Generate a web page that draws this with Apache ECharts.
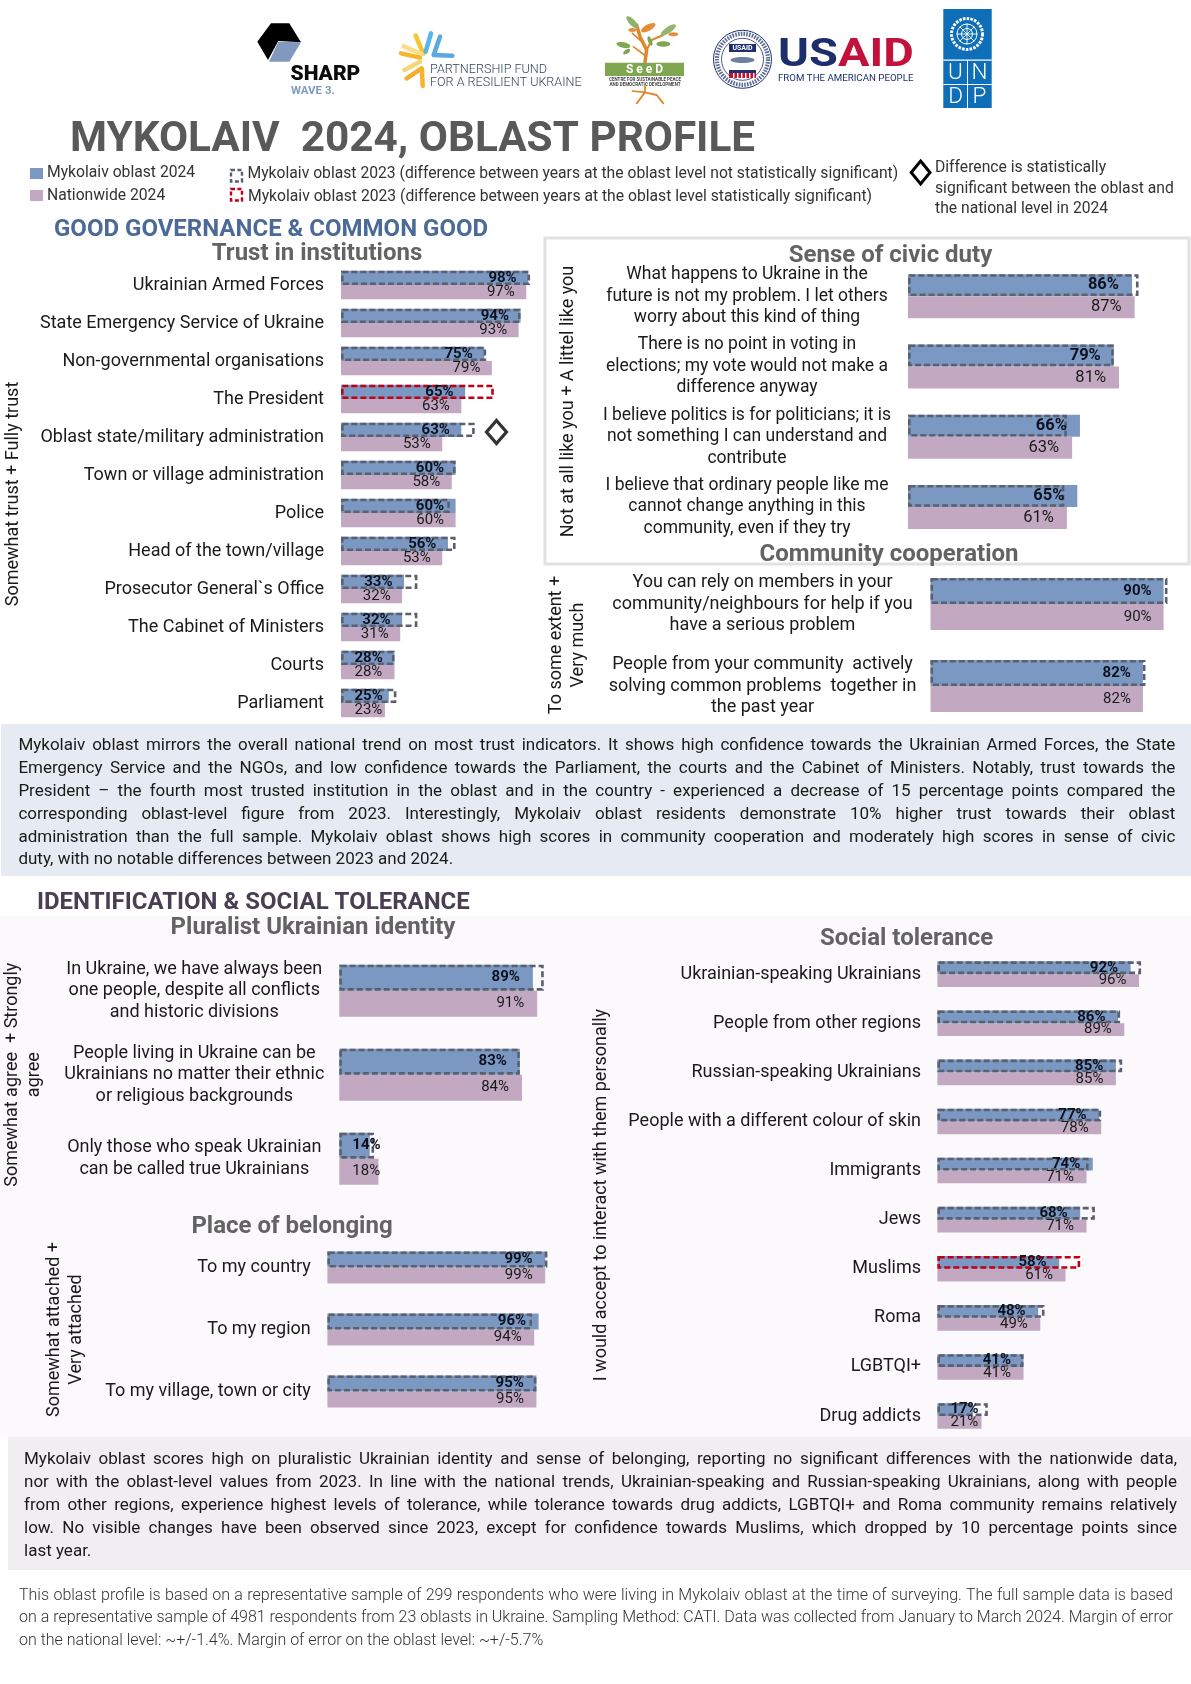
<!DOCTYPE html>
<html><head><meta charset="utf-8">
<script src="https://cdn.jsdelivr.net/npm/echarts@6/dist/echarts.min.js"></script>
<style>
html,body{margin:0;padding:0;background:#fff;}
#wrap{position:relative;width:1191px;height:1684px;overflow:hidden;font-family:Roboto,sans-serif;}
#chart{position:absolute;left:0;top:0;width:1191px;height:1684px;}
.ln{position:absolute;white-space:nowrap;text-align:justify;text-align-last:justify;}
.ln.last{text-align-last:left;}
</style></head><body><div id="wrap"><div id="chart"></div></div>
<script>
// ---------- DATA ----------
const trustCats = ['Ukrainian Armed Forces','State Emergency Service of Ukraine','Non-governmental organisations','The President','Oblast state/military administration','Town or village administration','Police','Head of the town/village','Prosecutor General`s Office','The Cabinet of Ministers','Courts','Parliament'];
const trustOblast = [98,94,75,65,63,60,60,56,33,32,28,25];
const trustNation = [97,93,79,63,53,58,60,53,32,31,28,23];
const trust2023 = [99,94,76,80,70,60,57,60,40,40,28,29];
const trustSig = [3];
const trustDiamondAt = [null,null,null,null,81.4,null,null,null,null,null,null,null];

const civicCats = ['What happens to Ukraine in the\nfuture is not my problem. I let others\nworry about this kind of thing','There is no point in voting in\nelections; my vote would not make a\ndifference anyway','I believe politics is for politicians; it is\nnot something I can understand and\ncontribute','I believe that ordinary people like me\ncannot change anything in this\ncommunity, even if they try'];
const civicOblast = [86,79,66,65];
const civicNation = [87,81,63,61];
const civic2023 = [88.5,79,61,60];

const commCats = ['You can rely on members in your\ncommunity/neighbours for help if you\nhave a serious problem','People from your community  actively\nsolving common problems  together in\nthe past year'];
const commOblast = [90,82];
const commNation = [90,82];
const comm2023 = [91.5,83];

const plurCats = ['In Ukraine, we have always been\none people, despite all conflicts\nand historic divisions','People living in Ukraine can be\nUkrainians no matter their ethnic\nor religious backgrounds','Only those who speak Ukrainian\ncan be called true Ukrainians'];
const plurOblast = [89,83,14];
const plurNation = [91,84,18];
const plur2023 = [94,83,16];

const placeCats = ['To my country','To my region','To my village, town or city'];
const placeOblast = [99,96,95];
const placeNation = [99,94,95];
const place2023 = [100,93,95];

const tolCats = ['Ukrainian-speaking Ukrainians','People from other regions','Russian-speaking Ukrainians','People with a different colour of skin','Immigrants','Jews','Muslims','Roma','LGBTQI+','Drug addicts'];
const tolOblast = [92,86,85,77,74,68,58,48,41,17];
const tolNation = [96,89,85,78,71,71,61,49,41,21];
const tol2023 = [97,87,88,78,72,75,68,51,41,24];
const tolSig = [6];

const para1 = ['Mykolaiv oblast mirrors the overall national trend on most trust indicators. It shows high confidence towards the Ukrainian Armed Forces, the State','Emergency Service and the NGOs, and low confidence towards the Parliament, the courts and the Cabinet of Ministers. Notably, trust towards the','President – the fourth most trusted institution in the oblast and in the country - experienced a decrease of 15 percentage points compared the','corresponding oblast-level figure from 2023. Interestingly, Mykolaiv oblast residents demonstrate 10% higher trust towards their oblast','administration than the full sample. Mykolaiv oblast shows high scores in community cooperation and moderately high scores in sense of civic','duty, with no notable differences between 2023 and 2024.'];
const para2 = ['Mykolaiv oblast scores high on pluralistic Ukrainian identity and sense of belonging, reporting no significant differences with the nationwide data,','nor with the oblast-level values from 2023. In line with the national trends, Ukrainian-speaking and Russian-speaking Ukrainians, along with people','from other regions, experience highest levels of tolerance, while tolerance towards drug addicts, LGBTQI+ and Roma community remains relatively','low. No visible changes have been observed since 2023, except for confidence towards Muslims, which dropped by 10 percentage points since','last year.'];
const foot = ['This oblast profile is based on a representative sample of 299 respondents who were living in Mykolaiv oblast at the time of surveying. The full sample data is based','on a representative sample of 4981 respondents from 23 oblasts in Ukraine. Sampling Method: CATI. Data was collected from January to March 2024. Margin of error','on the national level: ~+/-1.4%. Margin of error on the oblast level: ~+/-5.7%'];

// ---------- STYLE ----------
const BLUE='#7B98C3', PURPLE='#C3A8C2', GREY='#5A606E', RED='#C00016', FF='Roboto';

// ---------- CHART PANELS ----------
const grids=[],xAxes=[],yAxes=[],series=[],titles=[];
function panel(p){
  const g=grids.length;
  grids.push({left:p.x,top:p.top,width:p.ppx*100,height:p.h,containLabel:false,outerBoundsMode:'none'});
  xAxes.push({gridIndex:g,type:'value',min:0,max:100,show:false});
  const ya=yAxes.length;
  yAxes.push({gridIndex:g,type:'category',inverse:true,data:p.cats,position:'left',
    name:p.yName,nameLocation:'middle',nameGap:p.nameGap,nameRotate:90,
    nameTextStyle:{fontFamily:FF,fontSize:18,color:'#1a1a1a',lineHeight:p.nameLH||22},
    axisLine:{show:false},axisTick:{show:false},
    axisLabel:{interval:0,margin:p.margin,align:p.align||'right',fontFamily:FF,fontSize:p.fs||18,color:'#1a1a1a',lineHeight:p.lh||21.5}});
  yAxes.push({gridIndex:g,type:'category',inverse:true,data:p.cats,show:false});
  const lab=(w,clr)=>({show:true,position:'insideRight',distance:p.dist||12,formatter:'{c}%',fontFamily:FF,fontSize:p.lfs||15,fontWeight:w,color:clr});
  const smallItem=(v,i)=>{
    if(p.smallLeft&&p.smallLeft.includes(i)) return {value:v,label:{position:'insideLeft',distance:p.smallDist}};
    return v;
  };
  series.push({type:'bar',name:'Mykolaiv oblast 2024',xAxisIndex:g,yAxisIndex:ya,data:p.oblast.map(smallItem),barWidth:p.bar,barGap:0,z:2,itemStyle:{color:BLUE},label:lab('bold','#0d1220'),animation:false});
  series.push({type:'bar',name:'Nationwide 2024',xAxisIndex:g,yAxisIndex:ya,data:p.nation.map(smallItem),barWidth:p.bar,barGap:0,z:2,itemStyle:{color:PURPLE},label:lab('normal','#1a1a1a'),animation:false});
  series.push({type:'bar',name:'Mykolaiv oblast 2023',xAxisIndex:g,yAxisIndex:ya+1,
    data:p.prev.map((v,i)=>(p.sig||[]).includes(i)?{value:v,itemStyle:{borderColor:RED}}:v),
    barWidth:p.bar,barGap:0,z:2,animation:false,
    itemStyle:{color:'rgba(0,0,0,0)',borderColor:GREY,borderWidth:2.6,borderType:[6,3]}});
  series.push({type:'bar',name:'slot',xAxisIndex:g,yAxisIndex:ya+1,data:[],barWidth:p.bar,barGap:0,z:2,animation:false});
  if(p.diamonds){
    series.push({type:'scatter',name:'Significant difference',xAxisIndex:g,yAxisIndex:ya,z:3,animation:false,
      data:p.diamonds.map((v,i)=>v==null?null:[v,i]).filter(Boolean),
      symbol:'diamond',symbolSize:[20,23],symbolOffset:[0,-5],
      itemStyle:{color:'rgba(0,0,0,0)',borderColor:'#000',borderWidth:3.2}});
  }
}
panel({cats:trustCats,oblast:trustOblast,nation:trustNation,prev:trust2023,sig:trustSig,diamonds:trustDiamondAt,x:341,top:266,h:456,ppx:1.91,bar:14.3,margin:17,yName:'Somewhat trust + Fully trust',nameGap:317,dist:11.5,smallLeft:[10,11],smallDist:13.5});
panel({cats:civicCats,oblast:civicOblast,nation:civicNation,prev:civic2023,x:908,top:261,h:281,ppx:2.605,bar:22,margin:161,align:'center',yName:'Not at all like you + A littel like you',nameGap:329,dist:13,lfs:16.5,fs:17.5});
panel({cats:commCats,oblast:commOblast,nation:commNation,prev:comm2023,x:930.5,top:563,h:164,ppx:2.59,bar:26,margin:168,align:'center',yName:'To some extent +\nVery much',nameGap:341,dist:12});
panel({cats:plurCats,oblast:plurOblast,nation:plurNation,prev:plur2023,x:339.3,top:948.7,h:252,ppx:2.175,bar:26,margin:145,align:'center',yName:'Somewhat agree  + Strongly\nagree',nameGap:294,dist:13,smallLeft:[2],smallDist:13});
panel({cats:placeCats,oblast:placeOblast,nation:placeNation,prev:place2023,x:327.4,top:1236.5,h:186,ppx:2.2,bar:16,margin:16.6,yName:'Somewhat attached +\nVery attached',nameGap:240,dist:12.5});
panel({cats:tolCats,oblast:tolOblast,nation:tolNation,prev:tol2023,sig:tolSig,x:937.4,top:949.6,h:491,ppx:2.1,bar:12.8,margin:16.4,yName:'I would accept to interact with them personally',nameGap:325,dist:12.5,smallLeft:[9],smallDist:13});

function sectionTitle(t,cx,cy,fs){
  titles.push({text:t,left:cx,top:cy-fs/2+2,textAlign:'center',padding:0,textStyle:{fontFamily:FF,fontSize:fs,fontWeight:'bold',color:'#636363'}});
}
sectionTitle('Trust in institutions',317,252,24);
sectionTitle('Sense of civic duty',890.5,254,24);
sectionTitle('Community cooperation',889,553,24);
sectionTitle('Pluralist Ukrainian identity',313,926,24);
sectionTitle('Place of belonging',292,1225,24);
sectionTitle('Social tolerance',906.6,937,24);

// ---------- STATIC GRAPHICS ----------
const G=[];
function T(s,x,y,o={}){
  const el={type:'text',silent:true,style:{text:s,x,y,align:o.align||'left',verticalAlign:'middle',fill:o.fill||'#1a1a1a',fontFamily:o.ff||FF,fontSize:o.fs||15,fontWeight:o.w||'normal',rich:o.rich}};
  if(o.sx){el.scaleX=o.sx;el.originX=x;el.originY=y;}
  G.push(el);
}
function R(x,y,w,h,fill,extra){G.push({type:'rect',silent:true,shape:{x,y,width:w,height:h},style:Object.assign({fill},extra||{})});}
function L(pts,stroke,lw,extra){G.push({type:'polyline',silent:true,shape:{points:pts},style:Object.assign({stroke,lineWidth:lw,fill:'none',lineCap:'round',lineJoin:'round'},extra||{})});}
function P(pts,fill){G.push({type:'polygon',silent:true,shape:{points:pts},style:{fill}});}
function C(cx,cy,r,style){G.push({type:'circle',silent:true,shape:{cx,cy,r},style});}
function E(x,y,rx,ry,rot,fill){G.push({type:'ellipse',silent:true,x,y,rotation:rot,shape:{cx:0,cy:0,rx,ry},style:{fill}});}

// backgrounds
R(0,916,1191,521,'#FBF9FC');
R(1,724,1190,152,'#E6EAF2');
R(8,1437,1183,133,'#F1EEF2');
R(545,238,644,326,'none',{stroke:'#E2E2E2',lineWidth:3});

// SHARP
P([[271,23.3],[289.3,23.3],[301,42.3],[278.3,41],[268,60],[257.3,41.7]],'#000');
P([[278.3,41.7],[301,42.3],[289.3,61.7],[269,61.7]],'#8299BF');
T('SHARP',290.5,75,{fs:21,w:900,fill:'#0a0a0a'});
T('WAVE 3.',291,91,{fs:11.5,w:'bold',fill:'#8299BF'});
// Partnership fund
const zx=v=>245+v/3, zy=v=>5+v/3, zp=a=>a.map(q=>[zx(q[0]),zy(q[1])]);
L(zp([[512,92],[535,146]]),'#F6C62E',4.5);
L(zp([[558,85],[542,140]]),'#57B7EA',4.5);
L(zp([[585,95],[566,150],[622,152]]),'#5AA9E0',4.5);
L(zp([[476,124],[530,147]]),'#F9DD8A',4.5);
L(zp([[468,145],[525,158]]),'#F7B52B',4.5);
L(zp([[525,170],[478,195]]),'#F9D57A',4.5);
L(zp([[530,190],[485,220]]),'#F5AE2A',4.5);
L(zp([[531,195],[533,243]]),'#F7B52B',4.5);
T('PARTNERSHIP FUND',430,69.5,{fs:12.6,fill:'#33475B',w:300});
T('FOR A RESILIENT UKRAINE',430,83,{fs:12.6,fill:'#33475B',w:300});
// SeeD
const sx=v=>595+v/3, sy=v=>5+v/3, sp=a=>a.map(q=>[sx(q[0]),sy(q[1])]);
L(sp([[150,170],[155,135],[135,95],[125,60]]),'#E0862B',3.5);
L(sp([[155,135],[170,105],[205,90]]),'#E0862B',2);
L(sp([[140,110],[112,85]]),'#E0862B',1.6);
L(sp([[148,150],[115,125]]),'#E0862B',1.6);
E(sx(112),sy(52),8,3,-0.8,'#8DB26A');E(sx(160),sy(68),8,3.2,0.5,'#E48F35');E(sx(220),sy(75),9,3,0.6,'#94B673');
E(sx(235),sy(88),5,2,0,'#E48F35');E(sx(85),sy(120),7,2.8,-0.2,'#7FA650');E(sx(205),sy(117),7,2.8,0,'#7FA650');
E(sx(95),sy(140),4,2,0.6,'#7FA650');E(sx(165),sy(108),5,2,-1.2,'#7FA650');E(sx(112),sy(75),4,2,0,'#E48F35');
R(605,62.7,79,13.3,'#7FA650');
T('S e e D',644.5,70,{fs:12,w:'bold',fill:'#fff',align:'center'});
T('CENTRE FOR SUSTAINABLE PEACE',645,79.5,{fs:4.5,w:'bold',fill:'#444',align:'center'});
T('AND DEMOCRATIC DEVELOPMENT',645,84.5,{fs:4.5,w:'bold',fill:'#444',align:'center'});
L(sp([[150,245],[150,262],[125,295]]),'#E0862B',1.8);
L(sp([[150,262],[185,270],[205,295]]),'#E0862B',1.8);
L(sp([[112,258],[150,262]]),'#E0862B',1.6);
// USAID
C(742.5,59.3,29,{fill:'#fff',stroke:'#1E2F6B',lineWidth:1});
C(742.5,59.3,25.5,{fill:'none',stroke:'#5A6A95',lineWidth:4.2,lineDash:[1.6,1.2]});
C(742.5,59.3,21,{fill:'none',stroke:'#1E2F6B',lineWidth:0.8});
R(729,44,27,8,'#1E2F6B');
T('USAID',742.5,48.5,{fs:7,w:'bold',fill:'#fff',align:'center'});
E(742.5,60,12,3,0,'#6F7FA0');
R(729,70,27,3,'#1E2F6B');R(729,73,27,5,'#C2113A');
[733,737,741,745,749,753].forEach(x=>R(x,73,1.4,5,'#fff'));
T('{a|US}{b|AID}',778,56,{fs:38,w:'bold',sx:1.22,rich:{a:{fontFamily:FF,fontSize:38.5,fontWeight:'bold',fill:'#1C2F6C',color:'#1C2F6C'},b:{fontFamily:FF,fontSize:38.5,fontWeight:'bold',fill:'#C2113A',color:'#C2113A'}}});
T('FROM THE AMERICAN PEOPLE',778,79,{fs:9.7,fill:'#1C2F6C'});
// UNDP
R(943.3,9,48.4,99,'#0E6EB8');
R(943.3,59.5,48.4,1.2,'#fff');R(943.3,84,48.4,1,'#fff');R(967,60,1,48,'#fff');
C(967,34,15.5,{fill:'none',stroke:'#fff',lineWidth:3,lineDash:[2.6,1.2]});
C(967,34,10,{fill:'none',stroke:'#fff',lineWidth:1});C(967,34,5.5,{fill:'none',stroke:'#fff',lineWidth:1});
L([[957,34],[977,34]],'#fff',0.9);L([[967,24],[967,44]],'#fff',0.9);L([[960,27],[974,41]],'#fff',0.9);L([[974,27],[960,41]],'#fff',0.9);
[['U',955.5,73],['N',979.5,73],['D',955.5,97],['P',979.5,97]].forEach(a=>T(a[0],a[1],a[2],{fs:22.5,w:300,fill:'#fff',align:'center'}));

// headings
T('MYKOLAIV  2024, OBLAST PROFILE',70,140,{fs:42.3,w:'bold',fill:'#595959'});
T('GOOD GOVERNANCE & COMMON GOOD',54,230,{fs:24,w:'bold',fill:'#4C6A97'});
T('IDENTIFICATION & SOCIAL TOLERANCE',37,902.5,{fs:24,w:'bold',fill:'#4A3F52'});

// legend
R(30,168,13,11,BLUE);T('Mykolaiv oblast 2024',47,173,{fs:15.7,fill:'#333'});
R(30,190,13,11,PURPLE);T('Nationwide 2024',47,196,{fs:15.7,fill:'#333'});
R(231,170,11,11.5,'none',{stroke:GREY,lineWidth:2.4,lineDash:[4,2.4]});
T('Mykolaiv oblast 2023 (difference between years at the oblast level not statistically significant)',247.5,174,{fs:15.7,fill:'#333'});
R(231,189,11,11.5,'none',{stroke:RED,lineWidth:2.4,lineDash:[4,2.4]});
T('Mykolaiv oblast 2023 (difference between years at the oblast level statistically significant)',248,197,{fs:15.7,fill:'#333'});
G.push({type:'polygon',silent:true,shape:{points:[[920.6,161],[930,172.5],[920.6,184],[911.2,172.5]]},style:{fill:'none',stroke:'#000',lineWidth:3}});
T('Difference is statistically',935,168,{fs:15.7,fill:'#333'});
T('significant between the oblast and',935,189,{fs:15.7,fill:'#333'});
T('the national level in 2024',935,209,{fs:15.7,fill:'#333'});

const chart=echarts.init(document.getElementById('chart'),null,{width:1191,height:1684});
chart.setOption({animation:false,backgroundColor:'transparent',title:titles,grid:grids,xAxis:xAxes,yAxis:yAxes,series,graphic:{elements:G},tooltip:{show:false}});

// paragraphs as real text, one box per line so the line breaks follow the source
function para(lines,left,width,ys,fs,color,weight){
  const w=document.getElementById('wrap');
  lines.forEach((s,i)=>{
    const d=document.createElement('div');
    const last=i===lines.length-1;
    d.className='ln'+(last?' last':'');
    const sp=document.createElement('span');sp.textContent=s;d.appendChild(sp);
    d.style.cssText+=`left:${left}px;width:${width}px;top:${ys[i]-fs*0.6}px;font-size:${fs}px;line-height:${fs*1.2}px;color:${color};font-weight:${weight};`;
    w.appendChild(d);
    const nat=sp.getBoundingClientRect().width;
    if(nat>width){d.style.textAlignLast='left';d.style.wordSpacing=((width-nat)/(s.split(' ').length-1))+'px';}
  });
}
para(para1,18.4,1157,[744,767,790,813,836,858],17,'#1a1a1a',400);
para(para2,24,1153,[1458,1481,1504,1527,1550],17,'#1a1a1a',400);
para(foot,19,1154,[1595,1617,1640],16,'#333',300);
</script></body></html>
